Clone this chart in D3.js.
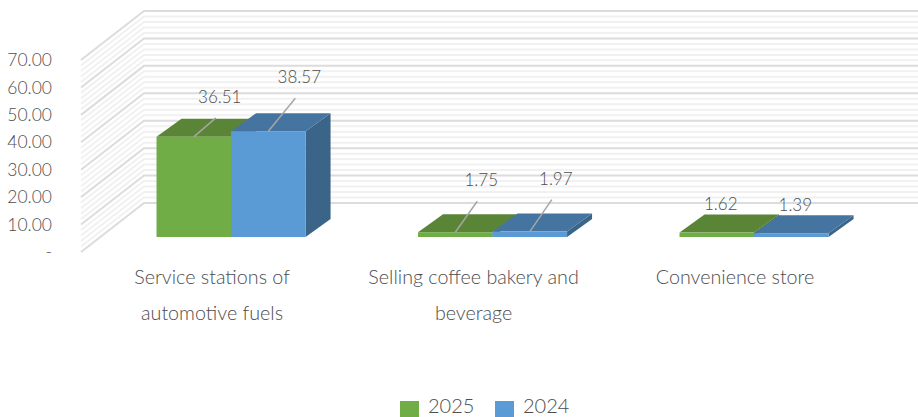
<!DOCTYPE html>
<html>
<head>
<meta charset="utf-8">
<script src="https://cdn.jsdelivr.net/npm/d3@7/dist/d3.min.js"></script>
<style>
html,body{margin:0;padding:0;background:#fff}
svg{display:block}
text{font-family:"Lato",sans-serif;font-weight:300;fill:#4d4d4d}
</style>
</head>
<body>
<svg id="chart" width="918" height="417"></svg>
<script>
// Chart values
const categories = ["Service stations of automotive fuels", "Selling coffee bakery and beverage", "Convenience store"];
const categoryLines = [["Service stations of", "automotive fuels"], ["Selling coffee bakery and", "beverage"], ["Convenience store"]];
const seriesNames = ["2025", "2024"];
const values2025 = [36.51, 1.75, 1.62];
const values2024 = [38.57, 1.97, 1.39];
const tickValues = [0, 10, 20, 30, 40, 50, 60, 70];
const tickLabels = ["-", "10.00", "20.00", "30.00", "40.00", "50.00", "60.00", "70.00"];
const seriesColors = [
  {front: "#70ad47", top: "#5a8536", side: "#4a6f2c"},
  {front: "#5b9bd5", top: "#44749f", side: "#3a6589"}
];

const svg = d3.select("#chart");

// Oblique projection: wall runs back by wallDx/wallDy, bars have a smaller depth
const wall = {left: 81, dx: 63, dy: -49, right: 918};
const barDepth = {dx: 25, dy: -18};
const barBase = 237;

const yWall = d3.scaleLinear().domain([0, 70]).range([252, 60]);
const yHeight = d3.scaleLinear().domain([0, 70]).range([0, 192]);
const xGroup = d3.scaleBand().domain(categories).range([100.3, 884.8]).paddingInner(0.43).paddingOuter(0.215);
const xBar = d3.scaleBand().domain(seriesNames).range([0, xGroup.bandwidth()]);

// Gridlines on the side and back walls: major every 10, minor every 2
const gridValues = d3.range(0, 70.01, 2);
const gridG = svg.append("g");
const minor = gridValues.filter(v => v % 10 !== 0);
const major = gridValues.filter(v => v % 10 === 0);
[[minor, "#f1f1f1", 2], [major, "#dcdcdc", 2]].forEach(([vals, color, width]) => {
  gridG.selectAll(null).data(vals).join("path")
    .attr("fill", "none").attr("stroke", color).attr("stroke-width", width)
    .attr("d", v => {
      const y = yWall(v);
      return `M${wall.left},${y}L${wall.left + wall.dx},${y + wall.dy}L${wall.right},${y + wall.dy}`;
    });
});

// Value axis labels
svg.append("g").selectAll("text").data(tickValues).join("text")
  .attr("x", 52).attr("y", yWall).attr("dy", "0.35em")
  .attr("text-anchor", "end").attr("font-size", 17.5)
  .text((d, i) => tickLabels[i]);

// Bars, left to right so the side faces overlap correctly
const bars = [];
categories.forEach((c, i) => {
  seriesNames.forEach((s, j) => {
    bars.push({c, s, j, value: (j === 0 ? values2025 : values2024)[i]});
  });
});
const barG = svg.append("g");
bars.forEach(b => {
  const x0 = xGroup(b.c) + xBar(b.s);
  const w = xBar.bandwidth();
  const h = yHeight(b.value);
  const top = barBase - h;
  const col = seriesColors[b.j];
  const {dx, dy} = barDepth;
  barG.append("path").attr("fill", col.side)
    .attr("d", `M${x0 + w},${barBase}L${x0 + w + dx},${barBase + dy}L${x0 + w + dx},${top + dy}L${x0 + w},${top}Z`);
  barG.append("path").attr("fill", col.top)
    .attr("d", `M${x0},${top}L${x0 + dx},${top + dy}L${x0 + w + dx},${top + dy}L${x0 + w},${top}Z`);
  barG.append("rect").attr("fill", col.front)
    .attr("x", x0).attr("y", top).attr("width", w).attr("height", h);
});

// Data labels: offsets from the bar's top-front centre, with optional leader lines
const labelOffsets2025 = [[26, -40, true], [26, -52, true], [4, -29, false]];
const labelOffsets2024 = [[31, -54, true], [26, -53, true], [4, -28, false]];
const labelG = svg.append("g");
bars.forEach(b => {
  const i = categories.indexOf(b.c);
  const [ox, oy, leader] = (b.j === 0 ? labelOffsets2025 : labelOffsets2024)[i];
  const cx = xGroup(b.c) + xBar(b.s) + xBar.bandwidth() / 2;
  const top = barBase - yHeight(b.value);
  if (leader) {
    labelG.append("line").attr("stroke", "#a6a6a6").attr("stroke-width", 1.5)
      .attr("x1", cx).attr("y1", top)
      .attr("x2", cx + ox - 4).attr("y2", top + oy + 21);
  }
  labelG.append("text").attr("x", cx + ox).attr("y", top + oy)
    .attr("dy", "0.35em").attr("text-anchor", "middle").attr("font-size", 17)
    .text(b.value.toFixed(2));
});

// Category labels, wrapped on two lines
const catG = svg.append("g");
const catTextOffset = [-19, -19, -19];
categories.forEach((c, i) => {
  const cx = xGroup(c) + xGroup.bandwidth() / 2;
  categoryLines[i].forEach((line, l) => {
    catG.append("text").attr("x", cx + catTextOffset[i]).attr("y", 277 + l * 36)
      .attr("dy", "0.35em").attr("text-anchor", "middle").attr("font-size", 19.7)
      .text(line);
  });
});

// Legend
const legendX = d3.scaleOrdinal().domain(seriesNames).range([400, 495]);
const legend = svg.append("g");
seriesNames.forEach((s, j) => {
  legend.append("rect").attr("x", legendX(s)).attr("y", 401)
    .attr("width", 19).attr("height", 16).attr("fill", seriesColors[j].front);
  legend.append("text").attr("x", legendX(s) + 28).attr("y", 413)
    .attr("font-size", 20).text(s);
});
</script>
</body>
</html>
